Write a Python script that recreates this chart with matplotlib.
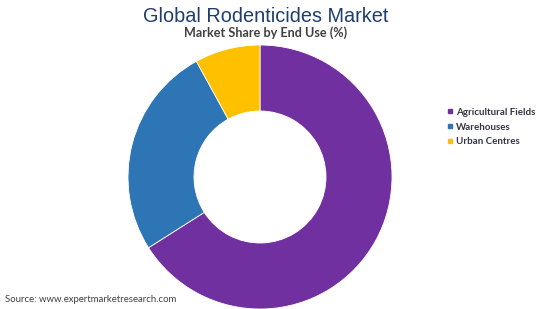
import matplotlib.pyplot as plt
from matplotlib.lines import Line2D

# Data
labels = ["Agricultural Fields", "Warehouses", "Urban Centres"]
shares = [66, 26, 8]
colors = ["#7030A0", "#2E75B6", "#FFC000"]

W, H = 550, 309
fig = plt.figure(figsize=(W / 100, H / 100), dpi=100)

# Donut axes: centre (260, 177) px, radius 132 px
cx, cy, r = 260, 177, 132
ax = fig.add_axes([(cx - r) / W, (H - cy - r) / H, 2 * r / W, 2 * r / H])
ax.pie(shares, colors=colors, startangle=90, counterclock=False,
       radius=1, wedgeprops=dict(width=0.5, edgecolor="white", linewidth=0.6))
ax.set_xlim(-1, 1)
ax.set_ylim(-1, 1)
ax.set_aspect("equal")
ax.axis("off")

# Titles
fig.text(266 / W, 1 - 17 / H, "Global Rodenticides Market", ha="center", va="center",
         fontsize=14.3, color="#1F3D6E", family="Liberation Sans")
fig.text(266 / W, 1 - 33 / H, "Market Share by End Use (%)", ha="center", va="center",
         fontsize=9.1, fontweight="bold", color="#404040", family="Lato")

# Legend
handles = [Line2D([0], [0], marker="s", linestyle="", markersize=3.5,
                  markerfacecolor=c, markeredgecolor=c) for c in colors]
leg = fig.legend(handles, labels, loc="upper left", bbox_to_anchor=(438 / W, 1 - 99 / H),
                 frameon=False, handlelength=0.6, handletextpad=0.35, labelspacing=0.6,
                 prop=dict(family="Lato", weight="bold", size=7))
for t in leg.get_texts():
    t.set_color("#333344")

# Source
fig.text(5 / W, 1 - 300 / H, "Source: www.expertmarketresearch.com", ha="left", va="center",
         fontsize=6.9, color="#404040", family="Lato")

fig.savefig("out.png", dpi=100)
